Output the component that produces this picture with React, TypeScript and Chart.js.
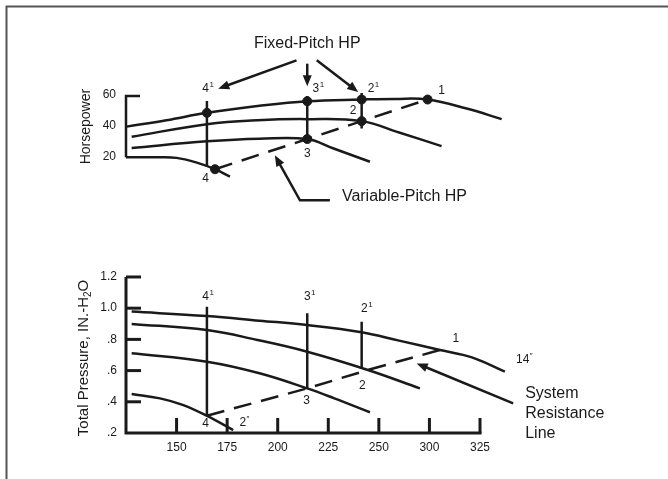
import React, { useEffect, useRef } from "react";
import { Chart, registerables } from "chart.js";
Chart.register(...registerables);

type P = { x: number; y: number };

const FONT = '"Liberation Sans", Arial, Helvetica, sans-serif';
const INK = "#1a1a1a";

// ---------- Top panel: horsepower (fixed-pitch fan curves) ----------
const hpCurve1: P[] = [
  { x: 125.3, y: 40 }, { x: 145, y: 44.2 }, { x: 165, y: 49 }, { x: 191, y: 53.6 },
  { x: 214.6, y: 56.6 }, { x: 241.5, y: 57.7 }, { x: 258, y: 58.1 }, { x: 274.1, y: 57.7 },
  { x: 293.4, y: 51.8 }, { x: 310.7, y: 44.9 },
];
const hpCurve2: P[] = [
  { x: 127.8, y: 33.4 }, { x: 165, y: 41.6 }, { x: 190, y: 44.2 }, { x: 214.6, y: 44.9 },
  { x: 241.5, y: 43.6 }, { x: 260.4, y: 36 }, { x: 281, y: 27.3 },
];
const hpCurve3: P[] = [
  { x: 127.8, y: 26.1 }, { x: 165, y: 30.4 }, { x: 191, y: 32.1 }, { x: 214.6, y: 31.9 },
  { x: 227.3, y: 25.9 }, { x: 245.6, y: 17.1 },
];
const hpCurve4: P[] = [
  { x: 125, y: 20 }, { x: 140, y: 20 }, { x: 150, y: 19.6 }, { x: 160, y: 16.5 },
  { x: 169, y: 12.2 }, { x: 176.4, y: 7.4 },
];
const hpVertical4: P[] = [{ x: 165, y: 56.8 }, { x: 165, y: 13.7 }];
const hpVertical3: P[] = [{ x: 214.6, y: 60 }, { x: 214.6, y: 31.9 }];
const hpVertical2: P[] = [{ x: 241.5, y: 61.9 }, { x: 241.5, y: 38.8 }];
const hpDots: P[] = [
  { x: 165, y: 49 }, { x: 214.6, y: 56.6 }, { x: 241.5, y: 57.7 }, { x: 274.1, y: 57.7 },
  { x: 241.5, y: 43.6 }, { x: 214.6, y: 31.9 }, { x: 169, y: 12.2 },
];
const hpVariable: P[] = [{ x: 169, y: 12.2 }, { x: 214.6, y: 31.9 }, { x: 241.5, y: 43.6 }, { x: 274.1, y: 57.7 }];
const hpTicks = [20, 40, 60];
const hpTickLabels = ["20", "40", "60"];

// ---------- Bottom panel: total pressure ----------
const pCurve14: P[] = [
  { x: 127.8, y: 0.978 }, { x: 165, y: 0.95 }, { x: 191, y: 0.92 }, { x: 214.6, y: 0.892 },
  { x: 241.5, y: 0.846 }, { x: 260, y: 0.792 }, { x: 280.2, y: 0.732 }, { x: 296, y: 0.685 },
  { x: 312.3, y: 0.593 },
];
const pCurveB: P[] = [
  { x: 127.8, y: 0.899 }, { x: 165, y: 0.86 }, { x: 190, y: 0.796 }, { x: 214.6, y: 0.721 },
  { x: 244.6, y: 0.604 }, { x: 270.3, y: 0.486 },
];
const pCurveC: P[] = [
  { x: 127.8, y: 0.711 }, { x: 165, y: 0.657 }, { x: 191, y: 0.583 }, { x: 214.6, y: 0.486 },
  { x: 228, y: 0.422 }, { x: 245.6, y: 0.333 },
];
const pCurve2: P[] = [
  { x: 127.8, y: 0.45 }, { x: 141.8, y: 0.422 }, { x: 153, y: 0.38 }, { x: 164.8, y: 0.311 },
  { x: 178, y: 0.219 },
];
const pVertical4: P[] = [{ x: 165, y: 1.01 }, { x: 165, y: 0.311 }];
const pVertical3: P[] = [{ x: 214.6, y: 0.967 }, { x: 214.6, y: 0.486 }];
const pVertical2: P[] = [{ x: 241.5, y: 0.913 }, { x: 241.5, y: 0.615 }];
const systemLine: P[] = [{ x: 165, y: 0.311 }, { x: 214.6, y: 0.486 }, { x: 244.6, y: 0.604 }, { x: 280.2, y: 0.732 }];
const pTicks = [0.2, 0.4, 0.6, 0.8, 1.0, 1.2];
const pTickLabels = [".2", ".4", ".6", ".8", "1.0", "1.2"];
const flowTicks = [150, 175, 200, 225, 250, 275, 300];
const flowTickLabels = ["150", "175", "200", "225", "250", "300", "325"];

// point labels: [main, superscript, x, y]
const hpPointLabels: [string, string, number, number][] = [
  ["4", "1", 164.4, 65], ["3", "1", 218.9, 65], ["2", "1", 246.1, 65], ["1", "", 281, 63.7],
  ["2", "", 237.3, 50.3], ["3", "", 214.6, 22.6], ["4", "", 164.4, 5.7],
];
const pPointLabels: [string, string, number, number][] = [
  ["4", "1", 164.4, 1.074], ["3", "1", 214.6, 1.074], ["2", "1", 242.8, 0.999], ["1", "", 288.1, 0.803],
  ["14", "\u2033", 321.1, 0.668], ["2", "", 241.8, 0.503], ["3", "", 214.3, 0.407], ["4", "", 164.4, 0.258],
  ["2", "\u2033", 182.7, 0.268],
];

// annotation arrows
const fixedArrows: P[][] = [
  [{ x: 209.3, y: 83.3 }, { x: 170.6, y: 64.8 }],
  [{ x: 214.6, y: 81.1 }, { x: 214.6, y: 66.3 }],
  [{ x: 219.3, y: 83.3 }, { x: 239.8, y: 62.6 }],
];
const variableArrow: P[] = [{ x: 225.8, y: -8.1 }, { x: 211, y: -8.1 }, { x: 198.6, y: 21.3 }];
const systemArrow: P[] = [{ x: 316.4, y: 0.39 }, { x: 268.7, y: 0.646 }];
const systemText = ["System", "Resistance", "Line"];

const line = (data: P[], axis: string, extra: any = {}) => ({
  type: "line",
  data,
  yAxisID: axis,
  borderColor: INK,
  borderWidth: 2.5,
  pointRadius: 0,
  fill: false,
  clip: false,
  tension: 0,
  ...extra,
});
const curve = (data: P[], axis: string) => line(data, axis, { tension: 0.4 });

function arrow(ctx: CanvasRenderingContext2D, pts: { x: number; y: number }[]) {
  ctx.beginPath();
  ctx.moveTo(pts[0].x, pts[0].y);
  for (let i = 1; i < pts.length - 1; i++) ctx.lineTo(pts[i].x, pts[i].y);
  const a = pts[pts.length - 2], b = pts[pts.length - 1];
  const ang = Math.atan2(b.y - a.y, b.x - a.x);
  const L = 11, W = 4.5;
  ctx.lineTo(b.x - Math.cos(ang) * (L - 1), b.y - Math.sin(ang) * (L - 1));
  ctx.stroke();
  ctx.beginPath();
  ctx.moveTo(b.x, b.y);
  ctx.lineTo(b.x - Math.cos(ang) * L - Math.sin(ang) * W, b.y - Math.sin(ang) * L + Math.cos(ang) * W);
  ctx.lineTo(b.x - Math.cos(ang) * L + Math.sin(ang) * W, b.y - Math.sin(ang) * L - Math.cos(ang) * W);
  ctx.closePath();
  ctx.fill();
}

function supLabel(ctx: CanvasRenderingContext2D, main: string, sup: string, x: number, y: number) {
  ctx.font = `12px ${FONT}`;
  ctx.textAlign = "center";
  ctx.textBaseline = "middle";
  ctx.fillText(main, x, y);
  if (sup) {
    const w = ctx.measureText(main).width;
    ctx.font = `8px ${FONT}`;
    ctx.textAlign = "left";
    ctx.fillText(sup, x + w / 2 + 0.5, y - 4);
  }
}

const decorPlugin = {
  id: "decor",
  afterDatasetsDraw(chart: any) {
    const ctx: CanvasRenderingContext2D = chart.ctx;
    const sx = chart.scales.x, sh = chart.scales.yHP, sp = chart.scales.yP;
    const X = (v: number) => sx.getPixelForValue(v);
    const H = (v: number) => sh.getPixelForValue(v);
    const Pp = (v: number) => sp.getPixelForValue(v);
    ctx.save();

    // outer frame (top and left)
    ctx.strokeStyle = "#555";
    ctx.lineWidth = 2;
    ctx.beginPath();
    ctx.moveTo(668, 6.5);
    ctx.lineTo(6.5, 6.5);
    ctx.lineTo(6.5, 479);
    ctx.stroke();

    ctx.strokeStyle = INK;
    ctx.fillStyle = INK;
    ctx.lineCap = "butt";
    const ax = X(125);

    // top bracket axis
    ctx.lineWidth = 2.5;
    ctx.beginPath();
    ctx.moveTo(ax + 14, H(60));
    ctx.lineTo(ax, H(60));
    ctx.lineTo(ax, H(20));
    ctx.stroke();
    ctx.font = `12px ${FONT}`;
    ctx.textAlign = "right";
    ctx.textBaseline = "middle";
    hpTicks.forEach((t, i) => ctx.fillText(hpTickLabels[i], ax - 10, H(t) - 1));
    ctx.save();
    ctx.translate(ax - 40, H(40));
    ctx.rotate(-Math.PI / 2);
    ctx.font = `14px ${FONT}`;
    ctx.textAlign = "center";
    ctx.fillText("Horsepower", 0, 0);
    ctx.restore();

    // bottom axes
    ctx.lineWidth = 3;
    const base = Pp(0.2);
    ctx.beginPath();
    ctx.moveTo(ax, Pp(1.2));
    ctx.lineTo(ax, base);
    ctx.lineTo(X(300) + 1.5, base);
    ctx.stroke();
    pTicks.forEach((t) => {
      if (t === 0.2) return;
      ctx.beginPath();
      ctx.moveTo(ax, Pp(t));
      ctx.lineTo(ax + 15, Pp(t));
      ctx.stroke();
    });
    flowTicks.forEach((t) => {
      ctx.beginPath();
      ctx.moveTo(X(t), base);
      ctx.lineTo(X(t), base - 15);
      ctx.stroke();
    });
    ctx.font = `12px ${FONT}`;
    ctx.textAlign = "right";
    ctx.textBaseline = "middle";
    pTicks.forEach((t, i) => ctx.fillText(pTickLabels[i], ax - 9, Pp(t)));
    ctx.textAlign = "center";
    flowTicks.forEach((t, i) => ctx.fillText(flowTickLabels[i], X(t), base + 15));

    // bottom y title with subscript
    ctx.save();
    ctx.translate(ax - 42, (Pp(1.2) + base) / 2 + 3);
    ctx.rotate(-Math.PI / 2);
    ctx.textAlign = "left";
    ctx.textBaseline = "middle";
    const t1 = "Total Pressure, IN.-H", t2 = "2", t3 = "O";
    ctx.font = `15px ${FONT}`;
    const w1 = ctx.measureText(t1).width, w3 = ctx.measureText(t3).width;
    ctx.font = `10px ${FONT}`;
    const w2 = ctx.measureText(t2).width;
    const s = -(w1 + w2 + w3) / 2;
    ctx.font = `15px ${FONT}`;
    ctx.fillText(t1, s, 0);
    ctx.font = `10px ${FONT}`;
    ctx.fillText(t2, s + w1, 4);
    ctx.font = `15px ${FONT}`;
    ctx.fillText(t3, s + w1 + w2, 0);
    ctx.restore();

    // point labels
    hpPointLabels.forEach(([m, su, x, y]) => supLabel(ctx, m, su, X(x), H(y)));
    pPointLabels.forEach(([m, su, x, y]) => supLabel(ctx, m, su, X(x), Pp(y)));

    // annotations
    ctx.lineWidth = 2.5;
    fixedArrows.forEach((a) => arrow(ctx, a.map((p) => ({ x: X(p.x), y: H(p.y) }))));
    arrow(ctx, variableArrow.map((p) => ({ x: X(p.x), y: H(p.y) })));
    arrow(ctx, systemArrow.map((p) => ({ x: X(p.x), y: Pp(p.y) })));

    ctx.font = `16px ${FONT}`;
    ctx.textBaseline = "middle";
    ctx.textAlign = "center";
    ctx.fillText("Fixed-Pitch HP", X(214.6), H(94.2));
    ctx.textAlign = "left";
    ctx.fillText("Variable-Pitch HP", X(variableArrow[0].x) + 12, H(variableArrow[0].y) - 4);
    const tx = X(systemArrow[0].x) + 12;
    const ty = Pp(systemArrow[0].y) - 10;
    systemText.forEach((t, i) => ctx.fillText(t, tx, ty + i * 20));

    ctx.restore();
  },
};

export default function App() {
  const ref = useRef<HTMLCanvasElement | null>(null);
  useEffect(() => {
    if (!ref.current) return;
    const chart = new Chart(ref.current, {
      type: "line",
      data: {
        datasets: [
          curve(hpCurve1, "yHP"),
          curve(hpCurve2, "yHP"),
          curve(hpCurve3, "yHP"),
          curve(hpCurve4, "yHP"),
          line(hpVertical4, "yHP"),
          line(hpVertical3, "yHP"),
          line(hpVertical2, "yHP"),
          line(hpVariable, "yHP", { borderDash: [18, 10] }),
          {
            type: "scatter",
            data: hpDots,
            yAxisID: "yHP",
            showLine: false,
            pointRadius: 4.5,
            pointBackgroundColor: INK,
            pointBorderColor: INK,
            clip: false,
          },
          curve(pCurve14, "yP"),
          curve(pCurveB, "yP"),
          curve(pCurveC, "yP"),
          curve(pCurve2, "yP"),
          line(pVertical4, "yP"),
          line(pVertical3, "yP"),
          line(pVertical2, "yP"),
          line(systemLine, "yP", { borderDash: [18, 10] }),
        ] as any,
      },
      options: {
        responsive: false,
        animation: false,
        events: [],
        layout: { padding: { left: 126, right: 188, top: 96, bottom: 46 } },
        plugins: { legend: { display: false }, tooltip: { enabled: false } },
        scales: {
          x: { type: "linear", min: 125, max: 300, display: false },
          yHP: { type: "linear", min: -160, max: 60, display: false },
          yP: { type: "linear", min: 0.2, max: 2.36, display: false },
        },
      },
      plugins: [decorPlugin],
    } as any);
    return () => chart.destroy();
  }, []);
  return (
    <div style={{ position: "fixed", left: 0, top: 0, width: 668, height: 479, background: "#fff" }}>
      <canvas ref={ref} width={668} height={479} style={{ display: "block" }} />
    </div>
  );
}
